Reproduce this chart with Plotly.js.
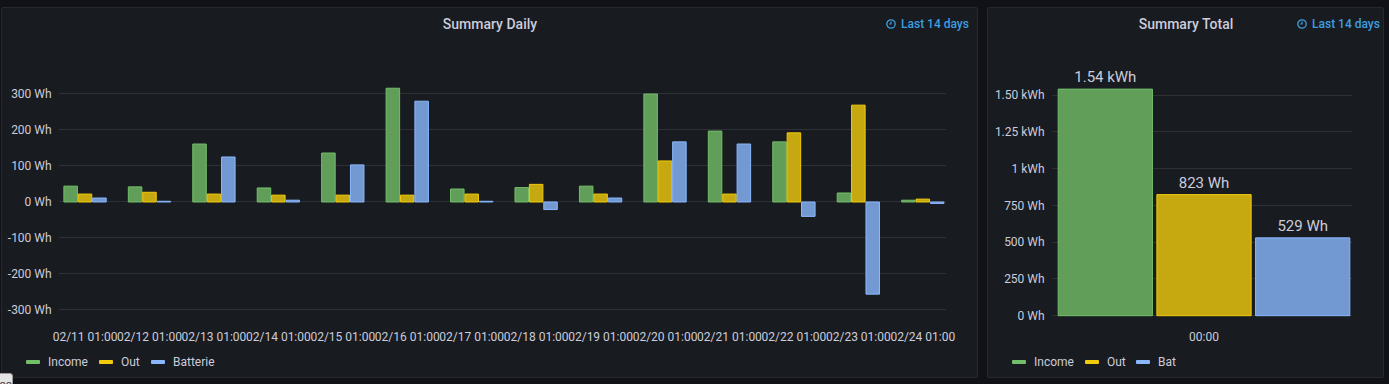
<!DOCTYPE html>
<html><head><meta charset="utf-8">
<script src="https://cdn.plot.ly/plotly-3.0.1.min.js"></script>
<style>
html,body{margin:0;padding:0;background:#111217;width:1389px;height:384px;overflow:hidden;font-family:Roboto,"Noto Sans",sans-serif;}
.panel{position:absolute;background:#181b1f;border:1px solid #25282e;border-radius:2px;box-sizing:border-box;}
.plot{position:absolute;top:0;height:384px;}
.range{position:absolute;top:17px;color:#3d9ee0;font-size:12px;font-weight:500;display:flex;align-items:center;height:14px;white-space:nowrap;}
.range svg{margin-right:5px;}
.leg{position:absolute;top:355px;font-size:12px;color:#ccccdc;display:flex;align-items:center;height:14px;white-space:nowrap;}
.leg .sw{display:inline-block;width:14px;height:4px;border-radius:1px;margin-right:8px;}
.tip{position:absolute;left:-7px;top:373px;width:20px;height:16px;background:#e4e4e4;border:1px solid #9a9a9a;border-radius:3px;font-size:11px;color:#333;line-height:14px;text-align:right;overflow:hidden;box-sizing:border-box;padding-top:4px;}
</style></head>
<body>
<div class="panel" style="left:1px;top:7px;width:977px;height:371px;"></div>
<div class="panel" style="left:987px;top:7px;width:397px;height:371px;"></div>

<div id="daily" class="plot" style="left:0;width:980px;"></div>
<div id="total" class="plot" style="left:980px;width:409px;"></div>

<div class="range" style="left:886px;"><svg width="10" height="10" viewBox="0 0 10 10"><circle cx="5" cy="5" r="4.2" fill="none" stroke="#3d9ee0" stroke-width="1.3"/><path d="M5 2.6V5H3.2" fill="none" stroke="#3d9ee0" stroke-width="1.2"/></svg>Last 14 days</div>
<div class="range" style="left:1297px;"><svg width="10" height="10" viewBox="0 0 10 10"><circle cx="5" cy="5" r="4.2" fill="none" stroke="#3d9ee0" stroke-width="1.3"/><path d="M5 2.6V5H3.2" fill="none" stroke="#3d9ee0" stroke-width="1.2"/></svg>Last 14 days</div>

<div class="leg" style="left:26px;"><span class="sw" style="background:#73bf69"></span>Income</div>
<div class="leg" style="left:99px;"><span class="sw" style="background:#f2cc0c"></span>Out</div>
<div class="leg" style="left:151px;"><span class="sw" style="background:#8ab8ff"></span>Batterie</div>

<div class="leg" style="left:1012px;"><span class="sw" style="background:#73bf69"></span>Income</div>
<div class="leg" style="left:1085px;"><span class="sw" style="background:#f2cc0c"></span>Out</div>
<div class="leg" style="left:1136px;"><span class="sw" style="background:#8ab8ff"></span>Bat</div>

<div class="tip">oo</div>

<script>
// ---- Data: Summary Daily ----
const categories = ["02/11 01:00","02/12 01:00","02/13 01:00","02/14 01:00","02/15 01:00","02/16 01:00","02/17 01:00","02/18 01:00","02/19 01:00","02/20 01:00","02/21 01:00","02/22 01:00","02/23 01:00","02/24 01:00"];
const income   = [44, 42, 161, 39, 136, 316, 36, 40, 44, 300, 197, 167, 25, 5];
const out      = [22, 27, 22, 19, 19, 19, 22, 49, 22, 114, 22, 192, 269, 8];
const batterie = [11, 2, 125, 5, 103, 280, 2, -21, 11, 167, 161, -40, -256, -4];
const dailyTickVals = [-300, -200, -100, 0, 100, 200, 300];
const dailyTickText = ["-300 Wh", "-200 Wh", "-100 Wh", "0 Wh", "100 Wh", "200 Wh", "300 Wh"];

// ---- Data: Summary Total ----
const totalCategory = ["00:00"];
const totalNames  = ["Income", "Out", "Bat"];
const totalValues = [1540, 823, 529];
const totalLabels = ["1.54 kWh", "823 Wh", "529 Wh"];
const totalTickVals = [0, 250, 500, 750, 1000, 1250, 1500];
const totalTickText = ["0 Wh", "250 Wh", "500 Wh", "750 Wh", "1 kWh", "1.25 kWh", "1.50 kWh"];

const fills  = ["rgb(97,158,90)", "rgb(198,169,16)", "rgb(115,153,210)"];
const lines  = ["#73bf69", "#f2cc0c", "#8ab8ff"];
const txt = "#ccccdc";
const grid = "rgba(204,204,220,0.12)";
const FAM = "Roboto, Noto Sans, sans-serif";
const font12 = {family: FAM, size: 12, color: txt};
const titleFont = {family: FAM, size: 14, color: txt, weight: 500};

const dailySeries = [["Income", income], ["Out", out], ["Batterie", batterie]];
const dailyTraces = dailySeries.map((s, i) => ({
  type: "bar", name: s[0], x: categories, y: s[1],
  marker: {color: fills[i], line: {color: lines[i], width: 1}},
  hoverinfo: "skip"
}));

Plotly.newPlot("daily", dailyTraces, {
  width: 980, height: 384,
  margin: {l: 59, r: 34, t: 50, b: 64, pad: 0},
  paper_bgcolor: "rgba(0,0,0,0)", plot_bgcolor: "rgba(0,0,0,0)",
  title: {text: "Summary Daily", x: 0.5, xref: "container", xanchor: "center", y: 1 - 24/384, yref: "container", yanchor: "middle", font: titleFont},
  barmode: "group", bargap: 0.33, bargroupgap: 0.06,
  showlegend: false,
  xaxis: {type: "category", range: [-0.404, 13.36], tickangle: 0, showgrid: false, zeroline: false, showline: false,
          ticks: "outside", ticklen: 6, tickcolor: "rgba(0,0,0,0)", tickfont: font12, automargin: false, fixedrange: true},
  yaxis: {range: [-327.8, 422.2], tickmode: "array", tickvals: dailyTickVals, ticktext: dailyTickText,
          showgrid: true, gridcolor: grid, gridwidth: 1, zeroline: false, showline: false,
          ticks: "outside", ticklen: 4, tickcolor: "rgba(0,0,0,0)", tickfont: font12, automargin: false, fixedrange: true}
}, {displayModeBar: false, staticPlot: true});

const totalTraces = totalNames.map((n, i) => ({
  type: "bar", name: n, x: totalCategory, y: [totalValues[i]],
  text: [totalLabels[i]], textposition: "outside", cliponaxis: false,
  textfont: {family: FAM, size: 15, color: txt},
  marker: {color: fills[i], line: {color: lines[i], width: 1}},
  hoverinfo: "skip"
}));

Plotly.newPlot("total", totalTraces, {
  width: 409, height: 384,
  margin: {l: 72, r: 37, t: 40, b: 64, pad: 0},
  paper_bgcolor: "rgba(0,0,0,0)", plot_bgcolor: "rgba(0,0,0,0)",
  title: {text: "Summary Total", x: (1186 - 980) / 409, xref: "container", xanchor: "center", y: 1 - 24/384, yref: "container", yanchor: "middle", font: titleFont},
  barmode: "group", bargap: 0.013, bargroupgap: 0.045,
  showlegend: false,
  xaxis: {type: "category", range: [-0.5067, 0.4933], tickangle: 0, showgrid: false, zeroline: false, showline: false,
          ticks: "outside", ticklen: 6, tickcolor: "rgba(0,0,0,0)", tickfont: font12, automargin: false, fixedrange: true},
  yaxis: {range: [-29.2, 1873.8], tickmode: "array", tickvals: totalTickVals, ticktext: totalTickText,
          showgrid: true, gridcolor: grid, gridwidth: 1, zeroline: false, showline: false,
          ticks: "outside", ticklen: 4, tickcolor: "rgba(0,0,0,0)", tickfont: font12, automargin: false, fixedrange: true}
}, {displayModeBar: false, staticPlot: true});
</script>
</body></html>
